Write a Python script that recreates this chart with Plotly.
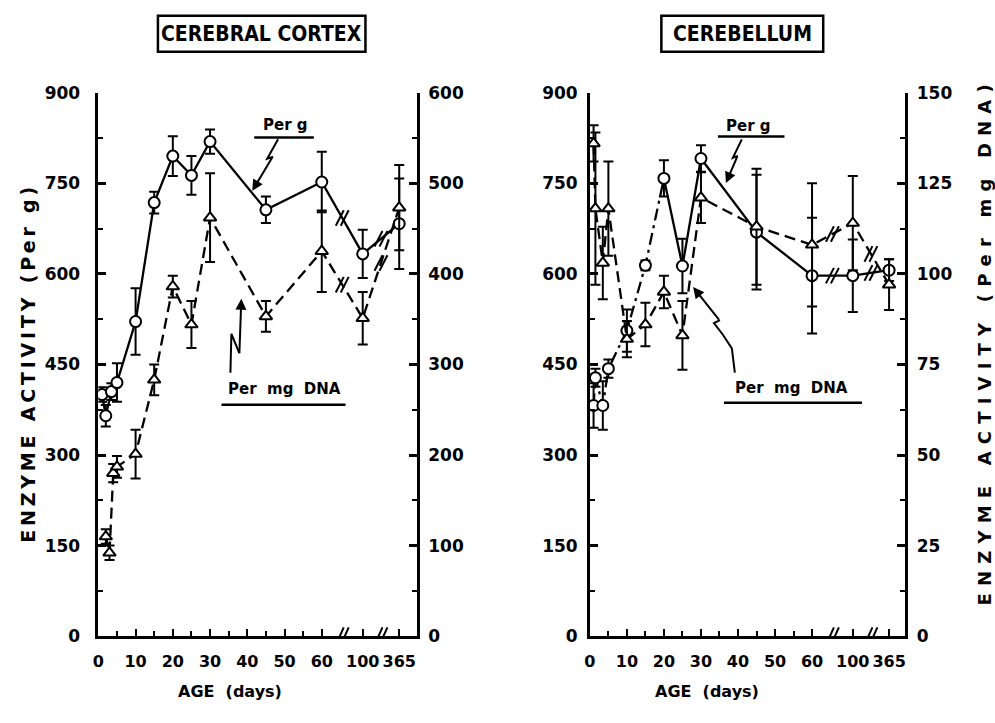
import plotly.graph_objects as go

W, H = 995, 723

# ---------------- data ----------------
# ages in days; 100 and 365 sit on a compressed tail of the age axis
age_tick_vals = [0, 10, 20, 30, 40, 50, 60, 100, 365]
age_tick_text = ["0", "10", "20", "30", "40", "50", "60", "100", "365"]

# Cerebral cortex, activity per g (left axis)
cortex_g_age = [1, 2, 3.5, 5, 10, 15, 20, 25, 30, 45, 60, 100, 365]
cortex_g_val = [400, 365, 405, 420, 521, 718, 795, 763, 819, 706, 752, 633, 683]
cortex_g_err = [12, 18, 14, 32, 55, 18, 33, 32, 20, 22, 50, 40, 75]

# Cerebral cortex, activity per mg DNA (right axis, 0-600)
cortex_dna_age = [2, 3, 4, 5, 10, 15, 20, 25, 30, 45, 60, 100, 365]
cortex_dna_val = [110, 92, 180, 187, 201, 283, 386, 344, 462, 353, 425, 351, 473]
cortex_dna_err = [8, 8, 10, 12, 27, 17, 12, 26, 49, 17, 45, 29, 47]

# Cerebellum, activity per g (left axis)
cereb_g_age = [1, 1.5, 3.5, 5, 10, 15, 20, 25, 30, 45, 60, 100, 365]
cereb_g_val = [382, 428, 382, 443, 506, 614, 758, 613, 791, 669, 597, 597, 606]
cereb_g_err = [37, 15, 40, 15, 35, 8, 30, 45, 22, 95, 96, 60, 18]

# Cerebellum, activity per mg DNA (right axis, 0-150)
cereb_dna_age = [1, 1.5, 3.5, 5, 10, 15, 20, 25, 30, 45, 60, 100, 365]
cereb_dna_val = [136, 118, 103, 118, 82, 86, 95, 83, 121, 113, 108, 114, 97]
cereb_dna_err = [5, 21, 10, 13, 5, 6, 4.5, 9.5, 7, 16, 17, 13, 7]

# ---------------- axis geometry ----------------
TAIL_POS = {100: 71.0, 365: 80.8}          # where the broken tail puts 100 and 365 days


def age_pos(a):
    return TAIL_POS.get(a, a)


def px(x):
    return x / W


def py(y):
    return 1 - y / H


LEFT_DOM = [px(93), px(414)]
RIGHT_DOM = [px(588), px(905)]
Y_DOM = [py(644), py(85)]
X_RANGE_L = [0, 85.6]
X_RANGE_R = [0, 85.0]

FONT = "DejaVu Sans"
INK = "black"
DASH = "11px,6px"
DASHDOT = "12px,5px,3px,5px"

fig = go.Figure()


def add_line(ages, vals, xa, ya, dash):
    fig.add_trace(go.Scatter(
        x=[age_pos(a) for a in ages], y=vals, mode="lines",
        line=dict(color=INK, width=2.3, dash=dash),
        xaxis=xa, yaxis=ya, showlegend=False, hoverinfo="skip"))


def add_points(ages, vals, errs, xa, ya, symbol):
    fig.add_trace(go.Scatter(
        x=[age_pos(a) for a in ages], y=vals, mode="markers",
        marker=dict(symbol=symbol, size=11, color="white",
                    line=dict(color=INK, width=2)),
        error_y=dict(type="data", array=errs, visible=True,
                     color=INK, thickness=2, width=5),
        xaxis=xa, yaxis=ya, showlegend=False, hoverinfo="skip"))


# cerebral cortex
add_line(cortex_g_age, cortex_g_val, "x", "y", "solid")
add_line(cortex_dna_age, cortex_dna_val, "x", "y2", DASH)
# cerebellum: the per-g curve is dash-dotted up to day 20, solid after
split = cereb_g_age.index(20) + 1
add_line(cereb_g_age[:split], cereb_g_val[:split], "x2", "y3", DASHDOT)
add_line(cereb_g_age[split - 1:], cereb_g_val[split - 1:], "x2", "y3", "solid")
add_line(cereb_dna_age, cereb_dna_val, "x2", "y4", DASH)

add_points(cortex_g_age, cortex_g_val, cortex_g_err, "x", "y", "circle")
add_points(cortex_dna_age, cortex_dna_val, cortex_dna_err, "x", "y2", "triangle-up")
add_points(cereb_g_age, cereb_g_val, cereb_g_err, "x2", "y3", "circle")
add_points(cereb_dna_age, cereb_dna_val, cereb_dna_err, "x2", "y4", "triangle-up")

shapes = []
annotations = []


def scale(dom, rng, size):
    return (dom[1] - dom[0]) * size / (rng[1] - rng[0])


# pixels per data unit for each axis
ppu = {
    "x": scale(LEFT_DOM, X_RANGE_L, W),
    "x2": scale(RIGHT_DOM, X_RANGE_R, W),
    "y": scale(Y_DOM, [0, 900], H),
    "y2": scale(Y_DOM, [0, 600], H),
    "y3": scale(Y_DOM, [0, 900], H),
    "y4": scale(Y_DOM, [0, 150], H),
}


def slash_pair(xc, yc, xa, ya, gap=5, dx=4, dy=8):
    """Two short parallel slashes centred on a point, in data units."""
    kx, ky = ppu[xa], ppu[ya]
    for off in (-gap / 2, gap / 2):
        cx = xc + off / kx
        shapes.append(dict(type="line", xref=xa, yref=ya,
                           x0=cx - dx / kx, y0=yc - dy / ky,
                           x1=cx + dx / kx, y1=yc + dy / ky,
                           line=dict(color=INK, width=2)))


# break marks on each line where it crosses the axis break
for ages, vals, xa, ya in [
    (cortex_g_age, cortex_g_val, "x", "y"),
    (cortex_dna_age, cortex_dna_val, "x", "y2"),
    (cereb_g_age, cereb_g_val, "x2", "y3"),
    (cereb_dna_age, cereb_dna_val, "x2", "y4"),
]:
    for i in range(len(ages) - 1):
        if ages[i + 1] in TAIL_POS:
            xm = (age_pos(ages[i]) + age_pos(ages[i + 1])) / 2
            ym = (vals[i] + vals[i + 1]) / 2
            slash_pair(xm, ym, xa, ya)

# break marks on the age axes
for xa, ya in [("x", "y"), ("x2", "y3")]:
    for xm in [(60 + TAIL_POS[100]) / 2, (TAIL_POS[100] + TAIL_POS[365]) / 2]:
        slash_pair(xm, 0, xa, ya, gap=5, dx=4, dy=9)


def path_shape(points):
    d = "M " + " L ".join(f"{px(x)},{py(y)}" for x, y in points)
    shapes.append(dict(type="path", xref="paper", yref="paper", path=d,
                       line=dict(color=INK, width=2)))


def arrow(tail, tip):
    annotations.append(dict(
        xref="paper", yref="paper", x=px(tip[0]), y=py(tip[1]),
        ax=tail[0] - tip[0], ay=tail[1] - tip[1], text="",
        showarrow=True, arrowhead=2, arrowsize=1.1, arrowwidth=2,
        arrowcolor=INK))


def label(text, cx, cy, size, family=FONT, angle=0):
    annotations.append(dict(xref="paper", yref="paper", x=px(cx), y=py(cy),
                            xanchor="center", yanchor="middle",
                            text=text, showarrow=False, textangle=angle,
                            font=dict(family=family, size=size, color=INK, weight="bold")))


def underlined_label(text, cx, cy, x0, x1, uy):
    label(text, cx, cy, 15)
    shapes.append(dict(type="line", xref="paper", yref="paper",
                       x0=px(x0), x1=px(x1), y0=py(uy), y1=py(uy),
                       line=dict(color=INK, width=2.5)))


def spaced(text, gap):
    """Letter-spaced text using thin spaces between characters."""
    return gap.join(text)


# series labels with their pointer arrows
underlined_label("Per g", 281, 118, 250, 310, 131)
path_shape([(274, 133), (263, 153), (269, 151)])
arrow((269, 151), (248, 186))

underlined_label("Per  mg  DNA", 280, 390, 217, 342, 406)
path_shape([(226, 373), (227, 333), (235, 353)])
arrow((235, 353), (237, 297))

underlined_label("Per g", 748, 119, 717, 784, 130)
path_shape([(741, 133), (732, 152), (737, 150)])
arrow((737, 150), (725, 178))

underlined_label("Per  mg  DNA", 791, 389, 723, 862, 404)
path_shape([(734, 373), (731, 348), (722, 334), (713, 322), (719, 319)])
arrow((719, 319), (692, 285))

# boxed panel titles
for text, x0, x1 in [("CEREBRAL CORTEX", 153, 362), ("CEREBELLUM", 660, 823)]:
    shapes.append(dict(type="rect", xref="paper", yref="paper",
                       x0=px(x0), x1=px(x1), y0=py(43), y1=py(6),
                       line=dict(color=INK, width=2.5)))
    label(text, (x0 + x1) / 2, 25, 21, family="Liberation Sans Narrow, DejaVu Sans Condensed")

# axis titles
for cx in (226, 706):
    label("AGE  (days)", cx, 701, 16)
label(spaced("ENZYME ACTIVITY (Per g)", "\u2009"), 22, 365, 19, angle=-90)
label(spaced("ENZYME ACTIVITY (Per mg DNA)", "\u2009\u2009"), 985, 345, 18, angle=-90)

tick_pos = [age_pos(a) for a in age_tick_vals]


def x_axis(dom, rng, anchor):
    return dict(domain=dom, range=rng, anchor=anchor,
                tickmode="array", tickvals=tick_pos, ticktext=age_tick_text,
                tickangle=0,
                ticks="inside", ticklen=7, tickwidth=2, tickcolor=INK,
                minor=dict(tickmode="array", tickvals=[5, 15, 25, 35, 45, 55],
                           ticks="inside", ticklen=5, tickwidth=2, tickcolor=INK),
                showline=True, linecolor=INK, linewidth=2.5,
                showgrid=False, zeroline=False,
                tickfont=dict(family=FONT, size=16, color=INK, weight="bold"),
                ticklabelstandoff=9)


def y_axis(rng, dtick, minor, side, anchor, overlay=None, standoff=8):
    d = dict(domain=Y_DOM, range=rng, anchor=anchor, side=side,
             tickmode="linear", tick0=0, dtick=dtick,
             ticks="inside", ticklen=8, tickwidth=2.5, tickcolor=INK,
             minor=dict(dtick=minor, ticks="inside", ticklen=5, tickwidth=2, tickcolor=INK),
             showline=True, linecolor=INK, linewidth=2.5,
             showgrid=False, zeroline=False,
             tickfont=dict(family=FONT, size=17, color=INK, weight="bold"),
             ticklabelstandoff=standoff)
    if overlay:
        d["overlaying"] = overlay
    return d


fig.update_layout(
    width=W, height=H,
    margin=dict(l=0, r=0, t=0, b=0),
    paper_bgcolor="white", plot_bgcolor="white",
    showlegend=False,
    xaxis=x_axis(LEFT_DOM, X_RANGE_L, "y"),
    yaxis=y_axis([0, 900], 150, 75, "left", "x", standoff=12),
    yaxis2=y_axis([0, 600], 100, 50, "right", "x", overlay="y", standoff=5),
    xaxis2=x_axis(RIGHT_DOM, X_RANGE_R, "y3"),
    yaxis3=y_axis([0, 900], 150, 75, "left", "x2", standoff=6),
    yaxis4=y_axis([0, 150], 25, 12.5, "right", "x2", overlay="y3", standoff=6),
    shapes=shapes,
    annotations=annotations,
)

fig.write_html("out.html")
